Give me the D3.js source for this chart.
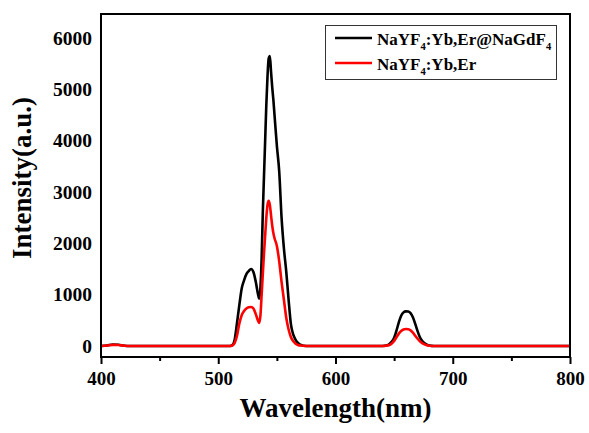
<!DOCTYPE html>
<html>
<head>
<meta charset="utf-8">
<script src="https://cdn.jsdelivr.net/npm/d3@7"></script>
<style>
  body { margin: 0; background: #fff; }
  text { font-family: "Liberation Serif", "Times New Roman", serif; font-weight: bold; }
</style>
</head>
<body>
<div class="chart"></div>
<script>
// wavelength samples (nm)
const wavelength = [400, 405, 410, 415, 420, 425, 450, 480, 500, 505, 510, 512, 514, 516, 518, 520, 522, 524, 526, 528,
  530, 532, 534, 535, 536, 537, 538, 539, 540, 541, 542, 543, 544, 545, 546, 547, 548, 550, 552, 554, 556, 558,
  560, 562, 564, 566, 568, 570, 575, 590, 620, 640, 644, 646, 648, 650, 652, 654, 656, 658, 660, 662, 664, 666,
  668, 670, 672, 674, 676, 678, 680, 684, 690, 720, 760, 800];

// NaYF4:Yb,Er@NaGdF4 (black)
const coreShell = [0, 10, 30, 25, 5, 0, 0, 0, 0, 0, 0, 15, 120, 450, 800, 1120, 1280, 1400, 1460, 1500,
  1440, 1250, 1000, 920, 1150, 1700, 2600, 3300, 4000, 4700, 5250, 5600, 5650, 5350, 5050, 4800, 4500, 3900, 3400, 2500, 1900, 1450,
  900, 420, 220, 120, 60, 25, 0, 0, 0, 0, 15, 40, 85, 160, 300, 460, 590, 655, 675, 670, 640, 560,
  430, 290, 170, 95, 50, 25, 10, 0, 0, 0, 0, 0];

// NaYF4:Yb,Er (red)
const core = [0, 8, 22, 18, 5, 0, 0, 0, 0, 0, 0, 10, 60, 200, 440, 600, 680, 730, 755, 760,
  730, 620, 490, 450, 600, 1000, 1400, 1800, 2150, 2500, 2750, 2830, 2750, 2550, 2350, 2200, 2100, 1950, 1650, 1250, 900, 550,
  320, 170, 90, 45, 20, 8, 0, 0, 0, 0, 10, 20, 50, 100, 170, 240, 290, 320, 330, 325, 305, 260,
  200, 140, 90, 55, 30, 15, 5, 0, 0, 0, 0, 0];

const xTicks = [400, 500, 600, 700, 800];
const xMinor = [450, 550, 650, 750];
const yTicks = [0, 1000, 2000, 3000, 4000, 5000, 6000];

const w = 589, h = 433;
const plot = { left: 101, right: 570, top: 14, bottom: 357 };

const svg = d3.select("div.chart")
  .append("svg")
  .attr("width", w)
  .attr("height", h);

const xScale = d3.scaleLinear().domain([400, 800]).range([plot.left, plot.right]);
const yScale = d3.scaleLinear().domain([-215, 6470]).range([plot.bottom, plot.top]);

// x axis with major + minor ticks
const xAxis = svg.append("g")
  .attr("transform", "translate(0," + plot.bottom + ")")
  .call(d3.axisBottom(xScale).tickValues(xTicks).tickSize(7).tickPadding(8).tickFormat(d3.format("d")));
xAxis.select(".domain").remove();
xAxis.selectAll("line").attr("stroke-width", 2);
xAxis.selectAll("text").attr("font-size", 19).attr("fill", "#000");

svg.append("g")
  .attr("transform", "translate(0," + plot.bottom + ")")
  .call(d3.axisBottom(xScale).tickValues(xMinor).tickSize(4).tickFormat(""))
  .call(g => g.select(".domain").remove())
  .selectAll("line").attr("stroke-width", 2);

// y axis (labels only)
const yAxis = svg.append("g")
  .attr("transform", "translate(" + plot.left + ",0)")
  .call(d3.axisLeft(yScale).tickValues(yTicks).tickSize(0).tickPadding(9).tickFormat(d3.format("d")));
yAxis.select(".domain").remove();
yAxis.selectAll("text").attr("font-size", 19.5).attr("fill", "#000");

// curves, red drawn over black
const series = [
  { values: coreShell, color: "#000000" },
  { values: core, color: "#ff0000" }
];
const line = d3.line()
  .x((d, i) => xScale(wavelength[i]))
  .y(d => yScale(d))
  .curve(d3.curveMonotoneX);

svg.selectAll("path.series")
  .data(series)
  .enter()
  .append("path")
  .attr("class", "series")
  .attr("d", d => line(d.values))
  .attr("fill", "none")
  .attr("stroke", d => d.color)
  .attr("stroke-width", 2.6)
  .attr("stroke-linejoin", "round");

// frame
svg.append("rect")
  .attr("x", plot.left)
  .attr("y", plot.top)
  .attr("width", plot.right - plot.left)
  .attr("height", plot.bottom - plot.top)
  .attr("fill", "none")
  .attr("stroke", "#000")
  .attr("stroke-width", 2);

// axis titles
svg.append("text")
  .attr("x", (plot.left + plot.right) / 2)
  .attr("y", 417)
  .attr("text-anchor", "middle")
  .attr("font-size", 27)
  .text("Wavelength(nm)");

svg.append("text")
  .attr("transform", "translate(31," + 178 + ") rotate(-90)")
  .attr("text-anchor", "middle")
  .attr("font-size", 27)
  .text("Intensity(a.u.)");

// legend
const legend = svg.append("g");
legend.append("rect")
  .attr("x", 325.5).attr("y", 25.5)
  .attr("width", 231).attr("height", 54)
  .attr("fill", "#fff")
  .attr("stroke", "#333")
  .attr("stroke-width", 1);

const legendItems = [
  { color: "#000", y: 38, parts: ["NaYF", "4", ":Yb,Er@NaGdF", "4"] },
  { color: "#ff0000", y: 63, parts: ["NaYF", "4", ":Yb,Er"] }
];
legendItems.forEach(item => {
  legend.append("line")
    .attr("x1", 335).attr("x2", 372)
    .attr("y1", item.y).attr("y2", item.y)
    .attr("stroke", item.color)
    .attr("stroke-width", 2.6);
  const t = legend.append("text")
    .attr("x", 377)
    .attr("y", item.y + 7)
    .attr("font-size", 17);
  // odd entries are subscripts
  item.parts.forEach((p, i) => {
    t.append("tspan")
      .attr("font-size", i % 2 ? 10.5 : 17)
      .attr("dy", i === 0 ? 0 : (i % 2 ? 5 : -5))
      .text(p);
  });
});
</script>
</body>
</html>
